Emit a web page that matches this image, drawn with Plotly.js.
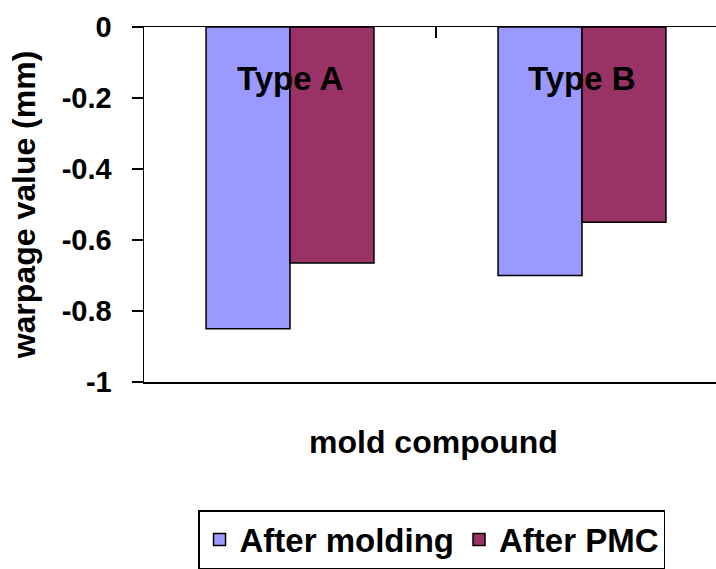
<!DOCTYPE html>
<html>
<head>
<meta charset="utf-8">
<script src="https://cdn.plot.ly/plotly-3.0.1.min.js"></script>
<style>html,body{margin:0;padding:0;background:#fff;overflow:hidden;width:716px;height:569px}#chart{width:728px;height:569px}</style>
</head>
<body>
<div id="chart"></div>
<script>
const categories = ["Type A", "Type B"];
const afterMolding = [-0.85, -0.70];
const afterPMC = [-0.665, -0.55];
const seriesNames = ["After molding", "After PMC"];
const yTickVals = [0, -0.2, -0.4, -0.6, -0.8, -1];
const yTickText = ["0", "-0.2", "-0.4", "-0.6", "-0.8", "-1"];
const xTitle = "mold compound";
const yTitle = "warpage value (mm)";
const labelY = -0.145;

const FONT = "Liberation Sans, Arial, sans-serif";

const traces = [
  {type: "bar", name: seriesNames[0], x: categories, y: afterMolding,
   marker: {color: "#9999FF", line: {color: "#000", width: 1.5}}},
  {type: "bar", name: seriesNames[1], x: categories, y: afterPMC,
   marker: {color: "#993366", line: {color: "#000", width: 1.5}}}
];

const annotations = categories.map(c => ({
  x: c, y: labelY, xref: "x", yref: "y", text: "<b>" + c + "</b>",
  showarrow: false, font: {size: 33, family: FONT, color: "#000"}
}));
annotations.push({
  x: 0.495, y: -0.17, xref: "paper", yref: "paper", xanchor: "center", yanchor: "middle",
  text: "<b>" + xTitle + "</b>", showarrow: false,
  font: {size: 32, family: FONT, color: "#000"}
});

const layout = {
  width: 728, height: 569,
  margin: {l: 144, r: 0, t: 27, b: 187, autoexpand: false},
  paper_bgcolor: "#fff", plot_bgcolor: "#fff",
  font: {family: FONT, color: "#000"},
  barmode: "group", bargap: 0.425, bargroupgap: 0,
  xaxis: {
    type: "category", range: [-0.5, 1.5], side: "top",
    showline: true, linecolor: "#000", linewidth: 1.5, mirror: true,
    ticks: "inside", tickson: "boundaries", ticklen: 11, tickwidth: 1.5, tickcolor: "#000",
    showticklabels: false, showgrid: false, zeroline: false
  },
  yaxis: {
    range: [-1, 0], tickvals: yTickVals, ticktext: yTickText,
    showline: true, linecolor: "#000", linewidth: 1.5,
    ticks: "outside", ticklen: 11, tickwidth: 1.5, tickcolor: "#000",
    ticklabelstandoff: 14,
    showgrid: false, zeroline: false,
    tickfont: {size: 29, family: FONT, weight: "bold"},
    title: {text: "<b>" + yTitle + "</b>", font: {size: 32, family: FONT}, standoff: 16}
  },
  annotations: annotations,
  showlegend: true,
  legend: {
    orientation: "h", xref: "paper", yref: "container",
    x: 0.0925, y: 1 - 510/569, xanchor: "left", yanchor: "top",
    bordercolor: "#000", borderwidth: 1.5, bgcolor: "#fff",
    font: {size: 33, family: FONT, weight: "bold"}
  }
};

Plotly.newPlot("chart", traces, layout, {displayModeBar: false, staticPlot: true});
</script>
</body>
</html>
